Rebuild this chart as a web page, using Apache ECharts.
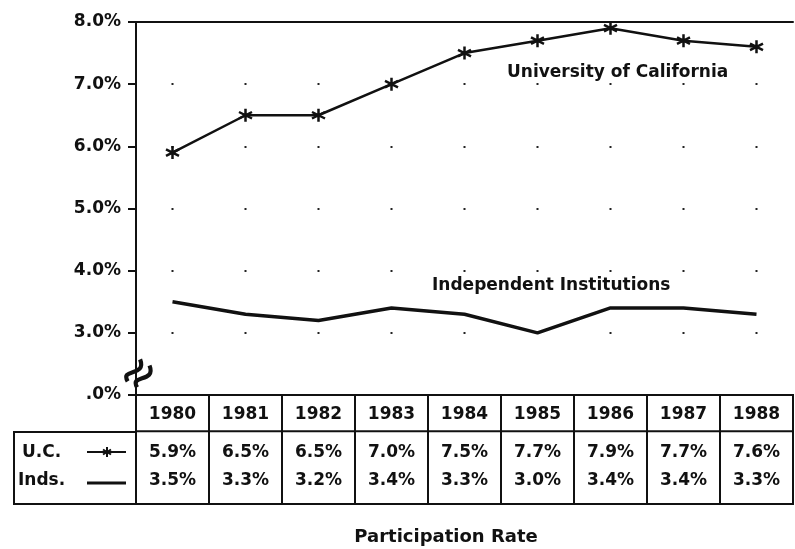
<!DOCTYPE html>
<html>
<head>
<meta charset="utf-8">
<script src="https://cdn.jsdelivr.net/npm/echarts@6/dist/echarts.min.js"></script>
<style>
  html, body { margin: 0; padding: 0; background: #fff; }
  #chart { width: 795px; height: 549px; }
</style>
</head>
<body>
<div id="chart"></div>
<script>
const years = ['1980', '1981', '1982', '1983', '1984', '1985', '1986', '1987', '1988'];
const ucRate = [5.9, 6.5, 6.5, 7.0, 7.5, 7.7, 7.9, 7.7, 7.6];
const indRate = [3.5, 3.3, 3.2, 3.4, 3.3, 3.0, 3.4, 3.4, 3.3];
const yTicks = [2, 3, 4, 5, 6, 7, 8];
const yTickLabels = ['.0%', '3.0%', '4.0%', '5.0%', '6.0%', '7.0%', '8.0%'];

const ink = '#111';
const boldFont = 'bold 17px "DejaVu Sans"';
// asterisk marker, stroked
const asterisk = 'path://M0,-6 L0,6 M-5.2,-3 L5.2,3 M-5.2,3 L5.2,-3';

function pct(v) {
  return v.toFixed(1) + '%';
}

function renderCell(params, api) {
  var i = params.dataIndex;
  var w = api.size([1, 0])[0];
  var top = api.coord([i, 3]);
  var mid = api.coord([i, 2]);
  var bot = api.coord([i, 0]);
  var x0 = top[0] - w / 2;
  var rowH = bot[1] - mid[1];
  return {
    type: 'group',
    children: [
      {type: 'rect', shape: {x: x0, y: top[1], width: w, height: bot[1] - top[1]},
        style: {fill: 'none', stroke: ink, lineWidth: 2}},
      {type: 'line', shape: {x1: x0, y1: mid[1], x2: x0 + w, y2: mid[1]},
        style: {stroke: ink, lineWidth: 2}},
      {type: 'text', style: {text: years[i], x: top[0], y: (top[1] + mid[1]) / 2 + 1,
        align: 'center', verticalAlign: 'middle', font: boldFont, fill: ink}},
      {type: 'text', style: {text: pct(ucRate[i]), x: top[0], y: mid[1] + rowH * 0.29,
        align: 'center', verticalAlign: 'middle', font: boldFont, fill: ink}},
      {type: 'text', style: {text: pct(indRate[i]), x: top[0], y: mid[1] + rowH * 0.68,
        align: 'center', verticalAlign: 'middle', font: boldFont, fill: ink}}
    ]
  };
}

var dom = document.getElementById('chart');
var myChart = echarts.init(dom, null, {renderer: 'canvas'});

var option = {
  animation: false,
  backgroundColor: '#fff',
  grid: [
    {left: 136, right: 2, top: 22, height: 373},
    {left: 136, right: 2, top: 395, height: 109}
  ],
  xAxis: [
    {
      type: 'category', data: years, gridIndex: 0, boundaryGap: true,
      axisLine: {lineStyle: {color: ink, width: 2}},
      axisTick: {show: false}, axisLabel: {show: false}, splitLine: {show: false}
    },
    {
      type: 'category', data: years, gridIndex: 0, position: 'top',
      axisLine: {lineStyle: {color: ink, width: 2}},
      axisTick: {show: false}, axisLabel: {show: false}, splitLine: {show: false}
    },
    {type: 'category', data: years, gridIndex: 1, show: false}
  ],
  yAxis: [
    {
      type: 'value', gridIndex: 0, min: 2, max: 8, interval: 1,
      axisLine: {show: true, lineStyle: {color: ink, width: 2}},
      axisTick: {show: true, length: 8, lineStyle: {color: ink, width: 2}},
      axisLabel: {
        margin: 15, color: ink, fontFamily: 'DejaVu Sans', fontWeight: 'bold', fontSize: 17,
        formatter: function (v) { return yTickLabels[yTicks.indexOf(v)]; }
      },
      splitLine: {
        show: true,
        lineStyle: {color: '#222', width: 2, type: [2, 71], dashOffset: 37.5}
      }
    },
    {type: 'value', gridIndex: 1, min: 0, max: 3, show: false}
  ],
  series: [
    {
      name: 'University of California',
      type: 'line', data: ucRate, xAxisIndex: 0, yAxisIndex: 0,
      symbol: asterisk, symbolSize: 13, showSymbol: true,
      lineStyle: {color: ink, width: 2.5},
      itemStyle: {color: 'none', borderColor: ink, borderWidth: 2.5}
    },
    {
      name: 'Independent Institutions',
      type: 'line', data: indRate, xAxisIndex: 0, yAxisIndex: 0,
      symbol: 'none',
      lineStyle: {color: ink, width: 3.5}
    },
    {
      type: 'custom', xAxisIndex: 2, yAxisIndex: 1,
      data: years.map(function (y, i) { return [i, 1]; }),
      renderItem: renderCell
    }
  ],
  graphic: [
    {type: 'text', x: 507, y: 73, style: {text: 'University of California', font: boldFont, fill: ink, verticalAlign: 'middle'}},
    {type: 'text', x: 432, y: 286, style: {text: 'Independent Institutions', font: boldFont, fill: ink, verticalAlign: 'middle'}},
    {type: 'text', x: 446, y: 537, style: {text: 'Participation Rate', font: 'bold 18px "DejaVu Sans"', fill: ink, align: 'center', verticalAlign: 'middle'}},
    // row labels of the table
    {type: 'polyline', shape: {points: [[136, 432], [14, 432], [14, 504], [136, 504]]}, style: {stroke: ink, lineWidth: 2, fill: 'none'}},
    {type: 'text', x: 22, y: 453, style: {text: 'U.C.', font: boldFont, fill: ink, verticalAlign: 'middle'}},
    {type: 'text', x: 18, y: 481, style: {text: 'Inds.', font: boldFont, fill: ink, verticalAlign: 'middle'}},
    {type: 'line', shape: {x1: 87, y1: 452, x2: 126, y2: 452}, style: {stroke: ink, lineWidth: 2}},
    {type: 'line', shape: {x1: 107, y1: 447, x2: 107, y2: 457}, style: {stroke: ink, lineWidth: 2}},
    {type: 'line', shape: {x1: 103, y1: 449.5, x2: 111, y2: 454.5}, style: {stroke: ink, lineWidth: 2}},
    {type: 'line', shape: {x1: 103, y1: 454.5, x2: 111, y2: 449.5}, style: {stroke: ink, lineWidth: 2}},
    {type: 'line', shape: {x1: 87, y1: 483, x2: 126, y2: 483}, style: {stroke: ink, lineWidth: 3}},
    // axis break mark
    {
      type: 'group', x: 138, y: 373, rotation: 1.0, scaleX: 1.4, scaleY: 1.4,
      children: [
        {type: 'bezierCurve', shape: {x1: -9, y1: -3, cpx1: -4, cpy1: -13, cpx2: 1, cpy2: 7, x2: 9, y2: -4}, style: {stroke: ink, lineWidth: 3, fill: 'none'}},
        {type: 'bezierCurve', shape: {x1: -9, y1: 5, cpx1: -4, cpy1: -5, cpx2: 1, cpy2: 15, x2: 9, y2: 4}, style: {stroke: ink, lineWidth: 3, fill: 'none'}}
      ]
    }
  ]
};

myChart.setOption(option);
window.addEventListener('resize', myChart.resize);
</script>
</body>
</html>
